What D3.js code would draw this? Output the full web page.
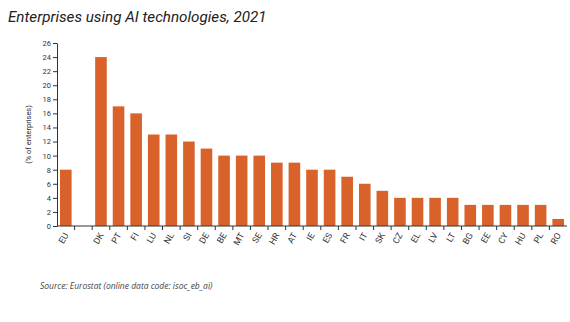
<!DOCTYPE html>
<html>
<head>
<meta charset="utf-8">
<script src="https://cdn.jsdelivr.net/npm/d3@7"></script>
<style>
  body { margin: 0; background: #fff; }
  svg { display: block; font-family: Roboto, "Open Sans", sans-serif; }
</style>
</head>
<body>
<div id="chart"></div>
<script>
// 국가 코드 (EU 다음 빈 칸은 구분용)
const countries = ['EU', '', 'DK', 'PT', 'FI', 'LU', 'NL', 'SI', 'DE', 'BE', 'MT', 'SE', 'HR', 'AT',
  'IE', 'ES', 'FR', 'IT', 'SK', 'CZ', 'EL', 'LV', 'LT', 'BG', 'EE', 'CY', 'HU', 'PL', 'RO'];
// AI 기술 사용 기업 비율 (%)
const shares = [8, null, 24, 17, 16, 13, 13, 12, 11, 10, 10, 10, 9, 9,
  8, 8, 7, 6, 5, 4, 4, 4, 4, 3, 3, 3, 3, 3, 1];
const yTicks = d3.range(0, 27, 2);

const width = 570, height = 322;
const margin = { left: 57, right: 3, top: 43, bottom: 96 };
const barColor = '#d9622b';
const textColor = '#333';

const svg = d3.select('#chart').append('svg')
  .attr('width', width)
  .attr('height', height);

// 제목
svg.append('text')
  .attr('x', 8).attr('y', 22)
  .attr('font-size', 15.2)
  .attr('font-style', 'italic')
  .attr('fill', '#222')
  .text('Enterprises using AI technologies, 2021');

const x = d3.scaleBand()
  .domain(countries.map((c, i) => i))
  .range([margin.left, width - margin.right])
  .paddingInner(0.34)
  .paddingOuter(0.17);

const y = d3.scaleLinear()
  .domain([0, 26])
  .range([height - margin.bottom, margin.top]);

// 막대
svg.append('g').selectAll('rect')
  .data(shares.map((v, i) => ({ v, i })).filter(d => d.v !== null))
  .enter().append('rect')
  .attr('x', d => x(d.i))
  .attr('y', d => y(d.v))
  .attr('width', x.bandwidth())
  .attr('height', d => y(0) - y(d.v))
  .attr('fill', barColor);

// y축
const yAxis = svg.append('g')
  .attr('transform', `translate(${margin.left},0)`)
  .call(d3.axisLeft(y).tickValues(yTicks).tickSize(4).tickPadding(2).tickSizeOuter(0));
yAxis.selectAll('text').attr('font-size', 7.5).attr('fill', textColor).attr('font-family', 'Roboto, sans-serif');
yAxis.selectAll('line, path').attr('stroke', '#333');

// x축: 눈금은 막대 사이 경계에 표시
const step = x.step();
const xAxis = svg.append('g')
  .attr('transform', `translate(0,${y(0)})`);
xAxis.append('line')
  .attr('x1', margin.left).attr('x2', width - margin.right)
  .attr('stroke', '#333');
xAxis.selectAll('line.tick')
  .data(countries.slice(1).map((c, i) => i + 1))
  .enter().append('line')
  .attr('class', 'tick')
  .attr('x1', i => x(i) - step * 0.17)
  .attr('x2', i => x(i) - step * 0.17)
  .attr('y1', 0).attr('y2', 4)
  .attr('stroke', '#333');
xAxis.selectAll('text')
  .data(countries.map((c, i) => ({ c, i })).filter(d => d.c))
  .enter().append('text')
  .attr('transform', d => `translate(${x(d.i) + x.bandwidth() / 2 + 3},${9}) rotate(-60)`)
  .attr('text-anchor', 'end')
  .attr('font-size', 8.8)
  .attr('fill', textColor)
  .text(d => d.c);

// y축 제목
svg.append('text')
  .attr('transform', `translate(31,${(y(0) + y(26)) / 2}) rotate(-90)`)
  .attr('text-anchor', 'middle')
  .attr('font-size', 7.5)
  .attr('fill', textColor)
  .text('(% of enterprises)');

// 출처
svg.append('text')
  .attr('x', 40).attr('y', 289)
  .attr('font-size', 8.5)
  .attr('font-style', 'italic')
  .attr('font-family', '"Open Sans", sans-serif')
  .attr('fill', '#444')
  .text('Source: Eurostat (online data code: isoc_eb_ai)');
</script>
</body>
</html>
